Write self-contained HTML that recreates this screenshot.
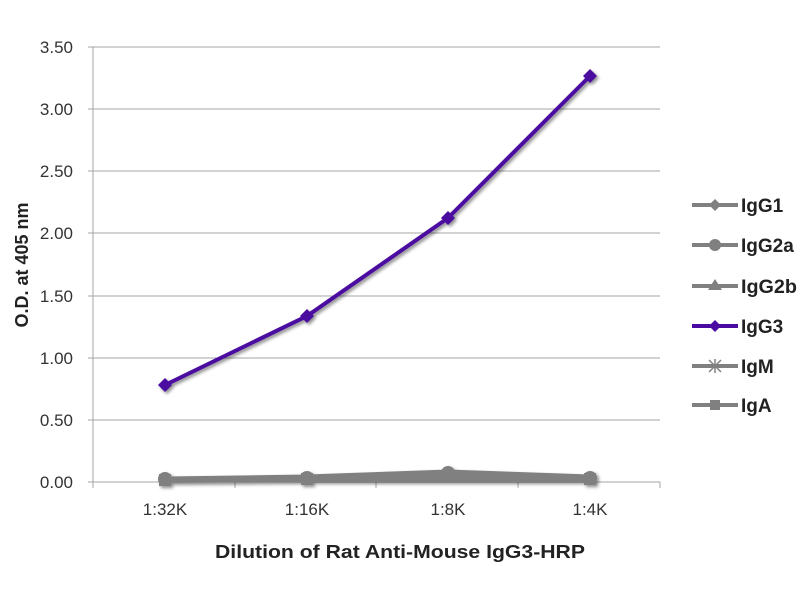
<!DOCTYPE html>
<html><head><style>
body{margin:0;background:#fff;}
svg text{font-family:"Liberation Sans","DejaVu Sans",sans-serif;}
</style></head><body>
<svg width="800" height="600" xmlns="http://www.w3.org/2000/svg">
<defs><filter id="sh" x="-20%" y="-20%" width="140%" height="140%"><feDropShadow dx="2" dy="2" stdDeviation="1.5" flood-color="#000" flood-opacity="0.45"/></filter></defs>
<g stroke="#a6a6a6" stroke-width="1">
<line x1="93" y1="47" x2="660" y2="47"/>
<line x1="93" y1="109" x2="660" y2="109"/>
<line x1="93" y1="171" x2="660" y2="171"/>
<line x1="93" y1="233" x2="660" y2="233"/>
<line x1="93" y1="296" x2="660" y2="296"/>
<line x1="93" y1="358" x2="660" y2="358"/>
<line x1="93" y1="420" x2="660" y2="420"/>
<line x1="93" y1="47" x2="93" y2="482"/>
<line x1="88" y1="482" x2="660" y2="482"/>
<line x1="88" y1="47" x2="93" y2="47"/><line x1="88" y1="109" x2="93" y2="109"/><line x1="88" y1="171" x2="93" y2="171"/><line x1="88" y1="233" x2="93" y2="233"/><line x1="88" y1="296" x2="93" y2="296"/><line x1="88" y1="358" x2="93" y2="358"/><line x1="88" y1="420" x2="93" y2="420"/>
<line x1="93" y1="482" x2="93" y2="488"/><line x1="235" y1="482" x2="235" y2="488"/><line x1="376" y1="482" x2="376" y2="488"/><line x1="518" y1="482" x2="518" y2="488"/><line x1="660" y1="482" x2="660" y2="488"/>
</g>
<g font-size="17" fill="#333" text-anchor="end">
<text x="73" y="53">3.50</text><text x="73" y="115">3.00</text><text x="73" y="177">2.50</text><text x="73" y="239">2.00</text><text x="73" y="302">1.50</text><text x="73" y="364">1.00</text><text x="73" y="426">0.50</text><text x="73" y="488">0.00</text>
</g>
<g font-size="17" fill="#333" text-anchor="middle">
<text x="165" y="515">1:32K</text><text x="307" y="515">1:16K</text><text x="448" y="515">1:8K</text><text x="590" y="515">1:4K</text>
</g>
<text x="400" y="558" font-size="18" font-weight="bold" fill="#222" text-anchor="middle" textLength="370" lengthAdjust="spacingAndGlyphs">Dilution of Rat Anti-Mouse IgG3-HRP</text>
<text transform="translate(28,265) rotate(-90)" font-size="18" font-weight="bold" fill="#222" text-anchor="middle">O.D. at 405 nm</text>
<g filter="url(#sh)">
<polyline points="165,479 307,477 448,472 590,477" fill="none" stroke="#808080" stroke-width="5"/>
<polyline points="165,480 307,479 448,476 590,479" fill="none" stroke="#808080" stroke-width="5"/>
<polyline points="165,481 307,480 448,480 590,480" fill="none" stroke="#808080" stroke-width="4"/>
<g fill="#808080">
<circle cx="165" cy="479" r="7"/><circle cx="307" cy="478" r="7"/><circle cx="448" cy="473" r="7"/><circle cx="590" cy="478" r="7"/>
<rect x="159" y="474" width="12" height="12"/><rect x="301" y="473" width="12" height="12"/><rect x="442" y="470" width="12" height="12"/><rect x="584" y="473" width="12" height="12"/>
</g>
<polyline points="165,385 307,316 448,218 590,76" fill="none" stroke="#4b0aa0" stroke-width="4"/>
<g fill="#4b0aa0">
<path d="M165 378 l7 7 -7 7 -7 -7z"/><path d="M307 309 l7 7 -7 7 -7 -7z"/><path d="M448 211 l7 7 -7 7 -7 -7z"/><path d="M590 69 l7 7 -7 7 -7 -7z"/>
</g>
</g>
<g font-size="19" font-weight="bold" fill="#222">
<line x1="692" y1="205" x2="738" y2="205" stroke="#808080" stroke-width="4"/><path d="M715 199 l6 6 -6 6 -6 -6z" fill="#808080"/><text x="741" y="212">IgG1</text>
<line x1="692" y1="245" x2="738" y2="245" stroke="#808080" stroke-width="4"/><circle cx="715" cy="245" r="6" fill="#808080"/><text x="741" y="252">IgG2a</text>
<line x1="692" y1="286" x2="738" y2="286" stroke="#808080" stroke-width="4"/><path d="M715 279 l7 11 -14 0z" fill="#808080"/><text x="741" y="293" textLength="56" lengthAdjust="spacingAndGlyphs">IgG2b</text>
<line x1="692" y1="326" x2="738" y2="326" stroke="#4b0aa0" stroke-width="4"/><path d="M715 320 l6 6 -6 6 -6 -6z" fill="#4b0aa0"/><text x="741" y="333">IgG3</text>
<line x1="692" y1="366" x2="738" y2="366" stroke="#808080" stroke-width="4"/><path d="M709 360 l12 12 M721 360 l-12 12 M715 359 v14" stroke="#808080" stroke-width="1.5"/><text x="741" y="373">IgM</text>
<line x1="692" y1="405" x2="738" y2="405" stroke="#808080" stroke-width="4"/><rect x="710" y="400" width="10" height="10" fill="#808080"/><text x="741" y="412">IgA</text>
</g>
</svg>
</body></html>
